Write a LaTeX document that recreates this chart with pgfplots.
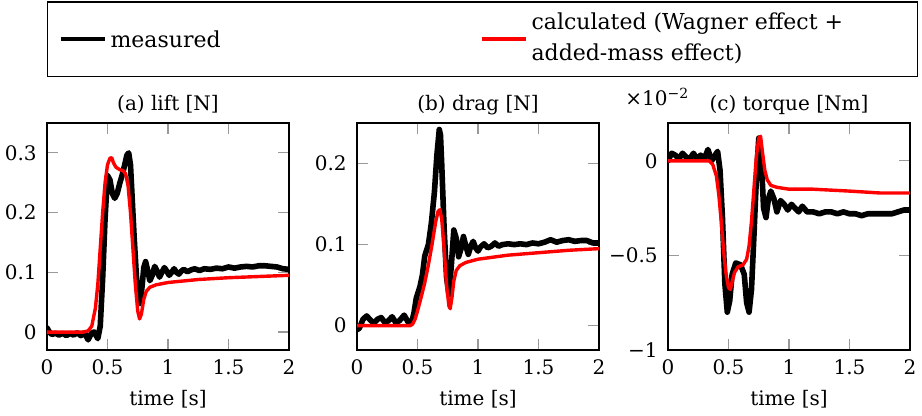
\documentclass[border=0pt]{standalone}
\usepackage{pgfplots}
\pgfplotsset{compat=1.18}
\usepackage{fontspec}
\setmainfont{DejaVu Serif}

\pgfplotsset{
  myax/.style={
    scale only axis, width=121pt, height=113.5pt,
    xmin=0, xmax=2, xtick={0,0.5,1,1.5,2},
    xticklabels={0,0.5,1,1.5,2},
    /pgf/number format/assume math mode=true,
    axis line style={black, line width=0.6pt},
    major tick style={black!40, line width=0.6pt},
    major tick length=5.5pt,
    tick align=inside, tick pos=both,
    xlabel={time [s]},
    xlabel style={at={(0.5,0)}, anchor=base, yshift=-28pt, inner sep=0pt},
    xticklabel style={anchor=base, yshift=-12.5pt, inner sep=0pt},
    yticklabel style={anchor=east, inner sep=0pt, xshift=-5pt},
    every axis title shift=0pt,
    title style={at={(0.5,1)}, anchor=base, yshift=6pt, inner sep=0pt},
    anchor=south west,
  },
  meas/.style={black, line width=2.8pt, line join=round, line cap=round},
  calc/.style={red, line width=1.7pt, line join=round},
}

\begin{document}
\begin{tikzpicture}
\useasboundingbox (-23.5pt,-33pt) rectangle (437.5pt,175pt);

% ---------------- (a) lift ----------------
\begin{axis}[myax, at={(0pt,0pt)},
  ymin=-0.03, ymax=0.35, ytick={0,0.1,0.2,0.3}, yticklabels={0,0.1,0.2,0.3},
  title={(a) lift [N]},
  legend columns=2,
  legend cell align=left,
  legend style={at={(0,1)}, anchor=south west, yshift=23pt, draw=black, line width=0.6pt,
    inner xsep=5.5pt, inner ysep=4pt, column sep=0pt,
    nodes={inner sep=0pt, text depth=, text height=},
    font=\fontsize{11}{13.6}\selectfont},
  legend image code/.code={\draw[#1, line width=2pt, line cap=butt] (0pt,0pt) -- (22pt,0pt);},
]
\addplot[meas] coordinates {
(0,0.007)(0.02,0.000)(0.04,-0.004)(0.07,-0.002)(0.10,-0.005)(0.13,-0.002)(0.16,-0.006)
(0.19,-0.002)(0.22,-0.005)(0.25,-0.001)(0.28,-0.006)(0.31,-0.001)(0.34,-0.013)(0.37,-0.001)
(0.39,0.000)(0.42,-0.011)(0.44,0.010)(0.46,0.09)(0.48,0.19)(0.50,0.262)(0.52,0.255)
(0.54,0.232)(0.56,0.224)(0.58,0.232)(0.60,0.248)(0.62,0.262)(0.64,0.278)(0.66,0.296)
(0.675,0.300)(0.69,0.28)(0.70,0.24)(0.72,0.16)(0.74,0.09)(0.755,0.055)(0.77,0.048)
(0.785,0.075)(0.80,0.108)(0.815,0.118)(0.83,0.105)(0.85,0.086)(0.87,0.095)(0.89,0.110)
(0.91,0.102)(0.93,0.092)(0.95,0.100)(0.97,0.108)(0.99,0.102)(1.01,0.095)(1.03,0.100)
(1.05,0.106)(1.07,0.100)(1.09,0.097)(1.11,0.102)(1.13,0.105)(1.16,0.101)(1.19,0.104)
(1.22,0.106)(1.26,0.103)(1.30,0.106)(1.35,0.105)(1.40,0.107)(1.45,0.106)(1.50,0.109)
(1.55,0.107)(1.60,0.109)(1.65,0.110)(1.70,0.109)(1.75,0.111)(1.80,0.111)(1.85,0.110)
(1.90,0.109)(1.95,0.106)(2.00,0.105)
};
\addlegendentry{\makebox[186.5pt][l]{\hspace{2pt}measured}}
\addplot[calc] coordinates {
(0,0)(0.30,0)(0.34,0.002)(0.37,0.01)(0.40,0.04)(0.42,0.08)(0.44,0.14)(0.46,0.20)
(0.48,0.25)(0.50,0.28)(0.52,0.291)(0.535,0.292)(0.55,0.283)(0.57,0.276)(0.60,0.272)
(0.63,0.270)(0.65,0.265)(0.67,0.245)(0.69,0.20)(0.71,0.14)(0.73,0.08)(0.75,0.035)
(0.765,0.022)(0.78,0.03)(0.80,0.055)(0.82,0.068)(0.85,0.075)(0.90,0.079)(1.00,0.083)
(1.10,0.085)(1.25,0.088)(1.50,0.091)(1.75,0.093)(2.00,0.095)
};
\addlegendentry{\makebox[189.5pt][l]{\hspace{2pt}\begin{tabular}{@{}l@{}}calculated (Wagner effect +\\[2pt] added-mass effect)\end{tabular}}}
\end{axis}

% ---------------- (b) drag ----------------
\begin{axis}[myax, at={(155pt,0pt)},
  ymin=-0.03, ymax=0.25, ytick={0,0.1,0.2}, yticklabels={0,0.1,0.2},
  title={(b) drag [N]},
]
\addplot[meas] coordinates {
(0,-0.005)(0.02,-0.003)(0.05,0.008)(0.08,0.012)(0.11,0.007)(0.14,0.003)(0.17,0.008)
(0.20,0.010)(0.23,0.004)(0.26,0.006)(0.29,0.011)(0.32,0.004)(0.35,0.006)(0.39,0.013)
(0.42,0.005)(0.45,0.003)(0.47,0.015)(0.49,0.034)(0.52,0.048)(0.54,0.062)(0.56,0.086)
(0.59,0.100)(0.615,0.127)(0.64,0.165)(0.66,0.21)(0.68,0.242)(0.69,0.235)(0.70,0.20)
(0.72,0.12)(0.74,0.06)(0.76,0.038)(0.78,0.075)(0.80,0.118)(0.82,0.108)(0.84,0.085)
(0.86,0.095)(0.88,0.110)(0.90,0.098)(0.92,0.088)(0.94,0.098)(0.96,0.104)(0.98,0.096)
(1.00,0.092)(1.02,0.097)(1.05,0.101)(1.08,0.096)(1.11,0.098)(1.14,0.102)(1.17,0.098)
(1.20,0.100)(1.25,0.101)(1.30,0.100)(1.35,0.101)(1.40,0.100)(1.45,0.102)(1.50,0.101)
(1.55,0.103)(1.60,0.106)(1.65,0.103)(1.70,0.105)(1.75,0.106)(1.80,0.104)(1.85,0.105)
(1.90,0.105)(1.95,0.102)(2.00,0.102)
};
\addplot[calc] coordinates {
(0,0)(0.44,0)(0.46,0.002)(0.48,0.008)(0.50,0.018)(0.53,0.035)(0.56,0.053)(0.59,0.075)
(0.62,0.10)(0.65,0.128)(0.67,0.141)(0.685,0.143)(0.70,0.132)(0.72,0.095)(0.74,0.05)
(0.76,0.024)(0.77,0.021)(0.785,0.035)(0.80,0.055)(0.82,0.068)(0.85,0.074)(0.90,0.078)
(1.00,0.082)(1.10,0.084)(1.25,0.087)(1.50,0.090)(1.75,0.093)(2.00,0.095)
};
\end{axis}

% ---------------- (c) torque ----------------
\begin{axis}[myax, at={(310.5pt,0pt)},
  ymin=-0.01, ymax=0.002, ytick={-0.01,-0.005,0}, yticklabels={−1,−0.5,0},
  scaled y ticks=false,
  title={(c) torque [Nm]},
  after end axis/.code={\node[anchor=base west, inner sep=0pt, xshift=-21.5pt, yshift=8.5pt] at (rel axis cs:0,1) {×10\textsuperscript{−2}};},
]
\addplot[meas] coordinates {
(0,0.0)(0.03,0.0004)(0.06,0.0003)(0.09,0.0001)(0.12,0.0004)(0.15,0.0002)(0.18,0.0001)
(0.21,0.0004)(0.24,0.0001)(0.27,0.0003)(0.30,0.0001)(0.33,0.0006)(0.36,0.0000)(0.38,0.0002)
(0.41,0.0005)(0.43,-0.0005)(0.45,-0.003)(0.47,-0.0065)(0.49,-0.0080)(0.51,-0.0074)
(0.53,-0.0060)(0.56,-0.0054)(0.60,-0.0055)(0.63,-0.0060)(0.65,-0.0075)(0.67,-0.0080)
(0.69,-0.0068)(0.71,-0.004)(0.73,-0.001)(0.75,0.0012)(0.77,0.0002)(0.79,-0.0025)
(0.81,-0.0030)(0.83,-0.0020)(0.85,-0.0016)(0.875,-0.0020)(0.90,-0.0027)(0.93,-0.0021)
(0.96,-0.0023)(0.99,-0.0026)(1.02,-0.0023)(1.05,-0.0025)(1.08,-0.0027)(1.11,-0.0024)
(1.15,-0.0027)(1.20,-0.0027)(1.25,-0.0028)(1.30,-0.0027)(1.35,-0.0027)(1.40,-0.0028)
(1.45,-0.0027)(1.50,-0.0028)(1.55,-0.0028)(1.60,-0.0029)(1.65,-0.0028)(1.70,-0.0028)
(1.75,-0.0028)(1.80,-0.0028)(1.85,-0.0028)(1.90,-0.0027)(1.95,-0.0026)(2.00,-0.0026)
};
\addplot[calc] coordinates {
(0,0)(0.34,0)(0.37,-0.0002)(0.40,-0.0008)(0.42,-0.0018)(0.44,-0.0032)(0.46,-0.0048)
(0.48,-0.0060)(0.50,-0.0067)(0.515,-0.0068)(0.53,-0.0064)(0.55,-0.0059)(0.58,-0.0056)
(0.62,-0.0055)(0.65,-0.0052)(0.67,-0.0045)(0.69,-0.0032)(0.71,-0.0015)(0.73,0.0002)
(0.75,0.0012)(0.765,0.0013)(0.78,0.0005)(0.80,-0.0005)(0.82,-0.0010)(0.85,-0.0013)
(0.90,-0.0014)(1.00,-0.0015)(1.20,-0.0015)(1.50,-0.0016)(1.75,-0.0017)(2.00,-0.0017)
};
\end{axis}
\end{tikzpicture}
\end{document}
